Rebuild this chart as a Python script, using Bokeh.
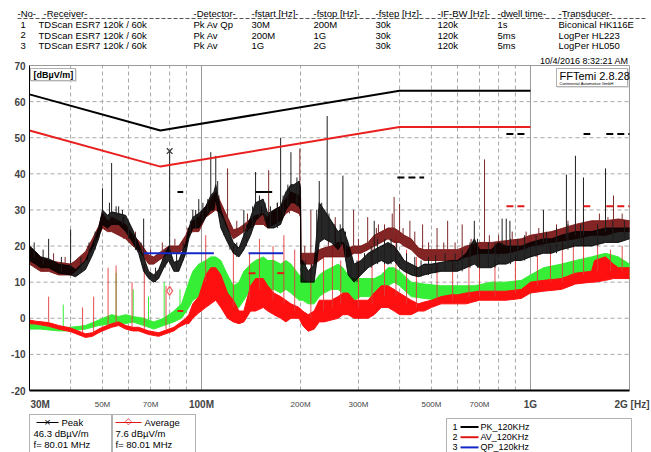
import math
from bokeh.plotting import figure
from bokeh.models import Range1d, Label, BoxAnnotation, Arrow, ColumnDataSource
from bokeh.embed import file_html
from bokeh.resources import INLINE

FONT = "Liberation Sans"

# ---------------- header table ----------------
header_cols = ["-No-", "-Receiver-", "-Detector-", "-fstart [Hz]-", "-fstop [Hz]-",
               "-fstep [Hz]-", "-IF-BW [Hz]-", "-dwell time-", "-Transducer-"]
header_rows = [
    ["1", "TDScan ESR7 120k / 60k", "Pk Av Qp", "30M", "200M", "30k", "120k", "1s", "Biconical HK116E"],
    ["2", "TDScan ESR7 120k / 60k", "Pk Av", "200M", "1G", "30k", "120k", "5ms", "LogPer HL223"],
    ["3", "TDScan ESR7 120k / 60k", "Pk Av", "1G", "2G", "30k", "120k", "5ms", "LogPer HL050"],
]
timestamp = "10/4/2016 8:32:21 AM"
unit_label = "[dBµV/m]"
software = "FFTemi 2.8.28"
software_sub = "Continental Automotive GmbH"

# ---------------- axes ----------------
y_ticks = [-20, -10, 0, 10, 20, 30, 40, 50, 60, 70]
x_labels_minor = [(50, "50M"), (70, "70M"), (200, "200M"), (300, "300M"), (500, "500M"), (700, "700M")]
x_labels_major = [(30, "30M"), (100, "100M"), (1000, "1G"), (2000, "2G [Hz]")]
grid_dashed_mhz = [40, 50, 60, 70, 80, 90, 200, 300, 400, 500, 600, 700, 800, 900]
grid_solid_mhz = [100, 1000]
F_MIN, F_MAX = 30, 2000
V_MIN, V_MAX = -20, 70

# ---------------- limits (MHz, dBuV/m) ----------------
limit_f = [30, 75, 400, 1000]
pk_limit = [62, 52, 63, 63]
av_limit = [52, 42, 53, 53]

# ---------------- scan traces: (MHz, low, high) ----------------
pk_trace = [
    (30, 16, 20), (31.3, 15, 18.5), (32.4, 14, 17), (34.3, 14, 16.5), (36.8, 12.5, 15),
    (40, 12, 14.5), (41.4, 11.5, 13.5), (44.4, 13.5, 16), (46.6, 17.5, 20.5), (48.7, 22, 25),
    (50, 26, 30), (51.8, 25, 28.5), (53.3, 26, 29.5), (56, 26, 29), (58.8, 24, 28.5),
    (61.8, 21, 24.5), (64.4, 18, 20.5), (66.7, 13, 17), (69.1, 11, 13), (71.6, 10, 12),
    (74.1, 11, 13.5), (76.8, 14, 17), (79.5, 16, 20), (82.4, 13, 15.5), (85.3, 13, 16),
    (89.6, 18, 21), (91.5, 22, 25), (94.1, 25, 28), (98.1, 25, 29), (103, 28, 31),
    (106.7, 30, 34), (109, 30, 35), (110.5, 33, 37), (114.5, 25, 30), (120, 21, 25),
    (125, 18, 21), (130, 17, 19.5), (134.5, 19, 23), (141, 23, 28), (146, 27, 32),
    (154, 29, 33), (159, 25, 29), (166, 25, 30), (174, 26, 31), (180.5, 30, 35),
    (187, 32, 37), (191, 32, 37), (198, 31, 38), (200, 30, 36),
    (200.5, 10, 16), (203, 10, 16), (211, 10, 13), (220, 10, 15), (228, 21, 32),
    (236, 22, 30), (248, 21, 27), (260, 19, 24), (269, 21, 25), (279, 12, 21),
    (291, 10, 15), (305, 12, 16), (321, 14, 18), (335, 15, 19), (352, 16, 20),
    (369, 15, 21), (385, 16, 20), (400, 14, 18), (413, 13, 16), (434, 12, 15),
    (456, 11.5, 14), (475, 12, 15), (500, 12.5, 15), (535, 13, 15.5), (574, 13, 16),
    (600, 13, 16), (638, 14, 18), (675, 15, 22), (700, 14, 19), (729, 14, 19),
    (760, 14, 19), (798, 15, 21), (844, 15, 20), (893, 16, 20), (938, 16, 20),
    (1000, 17, 21), (1095, 18, 22), (1158, 18, 22), (1242, 19, 23), (1370, 20, 24),
    (1533, 20, 24), (1691, 21, 25), (1851, 21, 25), (2000, 22, 25),
]
pk2_trace = [
    (30, 15, 20), (32.4, 13, 17), (34.3, 13, 16), (36.8, 12, 15.5), (40, 12, 15),
    (41.4, 13, 16), (44.4, 16, 18.5), (46.6, 19.5, 22), (48.7, 23, 25.5), (50, 25, 29),
    (51.8, 24, 27), (53.3, 24, 28), (56, 23, 27), (58.8, 22, 26), (61.8, 20, 23),
    (64.4, 19, 21.5), (66.7, 17, 19.5), (69.1, 15, 17.5), (71.6, 15, 17), (74.1, 16, 18),
    (76.8, 17, 19), (79.5, 18, 20), (82.4, 18, 20), (85.3, 18, 20), (89.6, 20, 23),
    (91.5, 23, 25), (94.1, 24, 27), (98.1, 24, 28), (103, 28, 31), (106.7, 29, 33),
    (110.5, 30, 35), (114.5, 29, 32), (120, 25, 28), (125, 22, 24.5), (130, 23, 25),
    (134.5, 24, 26), (141, 25, 27.5), (146, 26, 28.5), (154, 26, 29), (159, 25, 28),
    (166, 26, 30), (174, 27, 31), (180.5, 29, 33), (187, 30, 35), (198, 29, 34),
    (200, 28, 33),
    (200.5, 15, 18), (211, 15, 18), (220, 15, 18), (228, 16, 19), (236, 17, 19.5),
    (248, 17, 20), (260, 17, 21), (269, 17, 21), (279, 17, 19.5), (291, 18, 20),
    (305, 18, 20), (321, 19, 21), (335, 20, 23), (352, 21, 24), (369, 22, 25),
    (385, 21, 25), (400, 21, 24), (413, 20, 23), (434, 19, 22), (456, 17, 19.5),
    (475, 16, 19), (500, 16, 19), (535, 16, 19), (574, 16, 19), (600, 16, 19),
    (638, 17, 20), (700, 18, 21), (760, 18, 21), (844, 18, 21.5), (938, 19, 22),
    (1000, 20, 23), (1158, 21, 24), (1370, 22, 26), (1533, 23, 27), (1691, 23, 27),
    (1851, 24, 27.5), (2000, 24, 27),
]
av2_trace = [
    (30, -3, -1), (32.4, -3, -2), (36.8, -3.5, -2.5), (40, -3.5, -2.5), (44.4, -3, -2),
    (48.7, -2, -0.5), (53.3, -1.5, 1), (56, -1.5, 0.5), (58.8, -1.5, 1), (61.8, -1, 0.5),
    (66.7, -2, 0), (71.6, -3, -1), (76.8, -2, 0), (82.4, -1, 2), (87, 0, 4),
    (91.5, 3, 10), (94.1, 5, 13), (98.1, 6, 15), (103, 8, 16), (106.7, 9, 17),
    (110.5, 9, 17), (114.5, 8, 16), (120, 4, 12), (125, 2, 9), (130, 3, 10),
    (134.5, 5, 13), (141, 8, 15), (146, 9, 16), (154, 9, 17), (159, 8, 16),
    (166, 8, 16), (174, 7, 15), (180.5, 8, 16), (187, 7, 15), (198, 5, 12),
    (203, 5, 11), (211, 4, 10), (220, 4, 10), (228, 6, 12), (236, 7, 13),
    (248, 8, 14), (260, 8, 15), (269, 7, 14), (279, 5, 12), (291, 5, 11),
    (305, 6, 11), (321, 6, 11), (335, 6, 11), (352, 7, 12), (369, 9, 14),
    (385, 10, 14), (400, 9, 13), (434, 6, 10), (475, 5.5, 9.5), (535, 5, 9),
    (600, 5, 9), (675, 5, 9), (760, 6, 10), (844, 6, 10), (938, 6.5, 10.5),
    (1000, 7, 12), (1095, 8, 14), (1242, 9, 15), (1370, 10, 16), (1533, 11, 17),
    (1691, 12, 18), (1851, 12, 17), (2000, 11, 15),
]
av_trace = [
    (30, -1.5, -0.5), (31.3, -1.6, -0.8), (34.3, -2.2, -1.2), (36.8, -3, -2), (40, -3.7, -2.7),
    (44.4, -5.3, -4.3), (46.6, -5, -4), (48.7, -4, -3), (50, -3.5, -2.5), (53.3, -2.5, -1.5),
    (56, -2, -1), (58.8, -3, -2), (61.8, -3.5, -2.5), (64.4, -3.5, -2.5), (69.1, -4.5, -3.5),
    (74.1, -5, -4), (79.5, -4, -3), (82.4, -3.5, -2.5), (85.3, -2.5, -1.5), (89.6, -1.5, 0),
    (91.5, -1.5, 1), (94.1, 0, 4), (98.1, 1.5, 6), (103, 3, 12), (106.7, 4, 14),
    (110.5, 5, 14), (114.5, 3, 12), (120, 0, 7), (125, -1, 5), (130, -1.5, 2),
    (134.5, -1, 2), (141, 2, 9), (146, 2, 11), (154, 3, 11), (159, 2, 9),
    (166, 1, 7), (174, 0, 6), (180.5, -1, 5), (187, 0, 4), (198, 0, 3),
    (203, -2, 2), (211, -3.6, 1), (220, -3, 2), (228, -1, 5), (236, -1, 5),
    (248, -0.5, 5), (260, 0, 6), (269, 1, 7), (279, 1, 7), (291, 0, 5),
    (305, 0, 5), (321, 0, 5), (335, 1, 7), (352, 3, 9), (369, 3, 9),
    (385, 2, 8), (400, 1, 7), (434, 1, 5), (456, 2, 4), (475, 2, 4.5),
    (500, 3, 5), (535, 4, 6), (574, 4, 6.5), (600, 4, 6.5), (638, 4, 7),
    (700, 5, 7.5), (760, 5, 7.5), (844, 5, 7.5), (938, 5.5, 8), (1000, 7, 10),
    (1095, 7.5, 10.5), (1242, 8, 11), (1370, 9.5, 12.5), (1533, 10, 13), (1566, 10, 16),
    (1691, 10.5, 17), (1788, 11, 15), (1851, 11, 14), (2000, 11, 14),
]

# ---------------- narrow-band spikes / noise ticks: (MHz, bottom, top) ----------------
pk_spikes = [
    (34.3, 16, 22), (40, 14, 24.6), (50, 29, 36), (53.3, 29, 43), (56, 28, 31),
    (66.7, 17, 27.6), (80.01, 18, 46.3), (94.1, 27, 30), (98.1, 28, 33), (106.7, 33, 46),
    (110.5, 36, 45), (134.5, 22, 30), (146, 31, 40.5), (174, 30, 50), (187, 36, 46),
    (228, 31, 38), (241, 28, 56), (269, 24, 39.5), (335, 18, 27), (675, 20, 27),
    (820, 20, 27.6), (844, 20, 27.6), (866, 20, 27), (1095, 21, 30), (1286, 22, 39.8),
    (1370, 23, 45), (1449, 23, 39), (1691, 24, 41.5),
    (31, 17, 21), (33, 15, 19), (37.5, 13, 17), (43, 13, 17), (45.5, 16, 21),
    (47.5, 19, 24), (52.5, 27, 32), (55, 27, 31), (57.5, 26, 30), (60, 22, 27),
    (63, 19, 23), (65.5, 16, 21), (72.5, 10, 14), (77.5, 14, 19), (84, 13, 18),
    (88, 16, 21), (92.5, 23, 27), (96, 25, 30), (101, 27, 32), (104.5, 29, 33),
    (112, 33, 38), (117, 23, 28), (122, 19, 23), (128, 17, 21), (137, 20, 26),
    (143, 25, 31), (150, 28, 34), (156, 27, 32), (162, 25, 31), (170, 25, 32),
    (177, 28, 34), (183, 31, 37), (195, 31, 39), (207, 10, 16), (216, 10, 15),
    (224, 18, 30), (232, 22, 32), (244, 21, 29), (254, 20, 26), (264, 20, 26),
    (274, 16, 24), (285, 11, 18), (297, 10, 16), (313, 13, 18), (328, 14, 20),
    (343, 15, 22), (360, 15, 22), (377, 15, 22), (392, 15, 21),
    (420, 13, 18), (445, 12, 17), (465, 11.5, 16), (490, 12, 17), (515, 12.5, 17.5),
    (550, 13, 18), (590, 13, 18), (620, 13, 19), (655, 14, 21), (690, 14, 22),
    (745, 14, 21), (780, 14, 21), (870, 15, 22), (915, 16, 22), (960, 16, 23),
    (1040, 17, 23), (1120, 18, 24), (1200, 18, 25), (1300, 19, 26), (1420, 20, 26),
    (1600, 20, 26), (1780, 21, 27), (1930, 22, 27),
]
pk2_spikes = [
    (120, 27, 41.5), (160, 28, 41), (199, 33, 47), (215, 18, 30), (255, 20, 28),
    (290, 19, 30), (320, 20, 28), (345, 23, 26), (380, 24, 29), (385, 24, 33.6),
    (400, 23, 31.7), (430, 21, 27), (470, 19, 26), (520, 19, 25), (560, 19, 27),
    (620, 19, 26), (725, 20, 44), (1788, 27, 34),
    (35.5, 13, 18), (38.5, 12, 17), (45, 16, 20), (49.5, 24, 28), (58, 22, 28),
    (63, 19, 24), (70, 15, 19), (76, 16, 21), (83, 18, 22), (90.5, 21, 25),
    (97, 24, 29), (113, 29, 34), (128, 23, 27), (138, 24, 29), (152, 26, 31),
    (170, 26, 32), (185, 29, 36), (206, 15, 20), (243, 17, 22), (265, 17, 23),
    (300, 18, 22), (340, 20, 25), (360, 21, 26), (410, 20, 25), (445, 18, 24),
    (490, 16, 21), (545, 16, 21), (590, 16, 21), (660, 17, 22), (750, 18, 23),
    (800, 18, 23), (880, 18, 24), (970, 19, 24), (1060, 20, 25), (1200, 21, 26),
    (1300, 22, 27), (1450, 22, 28), (1620, 23, 29), (1720, 23, 28), (1900, 24, 29),
]
av_spikes = [
    (34.3, -1, 6), (43.5, -4, 3), (47, -4, 6), (52, -2, 14), (55, -1.5, 14.6),
    (61.5, -2.5, 10), (67, -3, 15), (78, -3, 9), (103, 10, 23), (125, 3, 20),
    (140, 5, 18), (150, 8, 22), (165, 5, 20), (178, 4, 23), (192, 2, 19),
    (215, 0, 15), (235, 2, 17), (250, 3, 20), (265, 4, 16), (300, 3, 18),
    (330, 4, 20), (360, 6, 22), (390, 6, 23), (420, 4, 19), (450, 3, 17),
    (520, 5, 15), (580, 5, 16), (650, 6, 18), (700, 6, 20), (780, 6, 16),
    (900, 7, 17), (1050, 9, 18), (1150, 10, 20), (1250, 10, 22), (1350, 12, 21),
    (1450, 12, 24), (1600, 13, 22), (1750, 13, 19), (1900, 13, 20),
]
av2_spikes = [(38, -2.5, 3.8), (55, 0, 12.6), (62, 0, 8), (69, -1, 6), (77, -1, 10),
              (86, 1, 8), (203, 8, 17)]

# ---------------- final measurement markers: (MHz start, MHz end, level) ----------------
qp_final = [(66.7, 109, 18), (139, 177, 18)]
pk_final_solid = [(84.5, 88, 35), (146, 164, 35)]
pk_final_dashed = [(394, 475, 39), (845, 960, 51), (1450, 1520, 51), (1700, 2000, 51)]
av_final_solid = [(84.5, 88, 2), (139, 146, 12.5), (170, 178, 12.5)]
av_final_dashed = [(845, 960, 31), (1450, 1520, 31), (1700, 2000, 31)]

peak_mark = (80.01, 46.3)
avg_mark = (80.01, 7.6)
peak_text = ["Peak", "46.3 dBµV/m", "f= 80.01 MHz"]
avg_text = ["Average", "7.6 dBµV/m", "f= 80.01 MHz"]
legend_entries = [("1", "PK_120KHz", "#000000"), ("2", "AV_120KHz", "#E01818"), ("3", "QP_120kHz", "#1428C8")]

MHZ = 1e6

# ---------------- layout (pixels) ----------------
W, H = 651, 452
PLOT_L, PLOT_R, PLOT_T, PLOT_B = 29, 629, 65, 390
dec_per_px = (math.log10(F_MAX) - math.log10(F_MIN)) / (PLOT_R - PLOT_L)
val_per_px = (V_MAX - V_MIN) / (PLOT_B - PLOT_T)
x_lo = 10 ** (math.log10(F_MIN * MHZ) - PLOT_L * dec_per_px)
x_hi = 10 ** (math.log10(F_MAX * MHZ) + (W - PLOT_R) * dec_per_px)
y_lo = V_MIN - (H - PLOT_B) * val_per_px
y_hi = V_MAX + PLOT_T * val_per_px

p = figure(width=W, height=H, x_axis_type="log",
           x_range=Range1d(x_lo, x_hi), y_range=Range1d(y_lo, y_hi),
           output_backend="svg", toolbar_location=None,
           x_axis_location=None, y_axis_location=None, min_border=0)
p.outline_line_color = None
p.grid.visible = False
p.background_fill_color = "white"
p.border_fill_color = "white"

fmin, fmax = F_MIN * MHZ, F_MAX * MHZ
inner_y = [t for t in y_ticks if V_MIN < t < V_MAX]
# grid
p.segment(x0=[fmin] * len(inner_y), x1=[fmax] * len(inner_y), y0=inner_y, y1=inner_y,
          line_color="#A8A8A8", line_dash="4 3", line_width=1)
p.segment(x0=[f * MHZ for f in grid_dashed_mhz], x1=[f * MHZ for f in grid_dashed_mhz],
          y0=[V_MIN] * len(grid_dashed_mhz), y1=[V_MAX] * len(grid_dashed_mhz),
          line_color="#A8A8A8", line_dash="4 3", line_width=1)
p.segment(x0=[f * MHZ for f in grid_solid_mhz], x1=[f * MHZ for f in grid_solid_mhz],
          y0=[V_MIN] * 2, y1=[V_MAX] * 2, line_color="#9A9A9A", line_width=1)
# frame
p.line([fmin, fmax, fmax], [V_MAX, V_MAX, V_MIN], line_color="#9A9A9A", line_width=1)


def band_source(trace):
    f, lo, hi = zip(*trace)
    return ColumnDataSource(dict(x=[v * MHZ for v in f], lo=list(lo), hi=list(hi)))


def draw_band(trace, color, alpha=1.0):
    src = band_source(trace)
    p.varea(x="x", y1="lo", y2="hi", source=src, fill_color=color, fill_alpha=alpha)
    p.line(x="x", y="hi", source=src, line_color=color, line_width=1, line_alpha=alpha)
    p.line(x="x", y="lo", source=src, line_color=color, line_width=1, line_alpha=alpha)


def draw_spikes(spikes, color, alpha=1.0, width=1):
    p.segment(x0="x", y0="lo", x1="x", y1="hi", source=band_source(spikes),
              line_color=color, line_alpha=alpha, line_width=width)


draw_band(av2_trace, "#36EE36")
draw_spikes(av2_spikes, "#36EE36")
draw_band(av_trace, "#FF1010")
draw_spikes(av_spikes, "#E23A3A", 0.9)
draw_band(pk2_trace, "#7A1212", 0.92)
draw_spikes(pk2_spikes, "#7E2A2A")
draw_band(pk_trace, "#000000", 0.85)
draw_spikes(pk_spikes, "#1E1E1E")

# limits
p.line([f * MHZ for f in limit_f], pk_limit, line_color="black", line_width=2)
p.line([f * MHZ for f in limit_f], av_limit, line_color="#E82020", line_width=2)


def draw_final(segs, color, dash="solid", width=2):
    a, b, v = zip(*segs)
    p.segment(x0=[x * MHZ for x in a], y0=list(v), x1=[x * MHZ for x in b], y1=list(v),
              line_color=color, line_width=width, line_dash=dash)


draw_final(qp_final, "#1428C8")
draw_final(pk_final_solid, "black")
draw_final(pk_final_dashed, "black", "7 4")
draw_final(av_final_solid, "#E01818")
draw_final(av_final_dashed, "#E01818", "7 4")

p.scatter([peak_mark[0] * MHZ], [peak_mark[1]], marker="x", size=8, line_color="#333333", line_width=1.2)
p.scatter([avg_mark[0] * MHZ], [avg_mark[1]], marker="diamond", size=9, fill_color=None,
          line_color="#F06060", line_width=1.2)

# axis lines (left thin black, bottom thick black)
p.line([fmin, fmin], [V_MIN, V_MAX], line_color="black", line_width=1)
p.line([fmin, fmax], [V_MIN, V_MIN], line_color="black", line_width=2)


# ---------------- text & boxes (pixel layout) ----------------
def sx(X):
    return X


def sy(Y):
    return H - Y


def text(X, Y, s, size="9.5px", align="left", bold=False, color="black", font=FONT):
    p.add_layout(Label(x=sx(X), y=sy(Y), x_units="screen", y_units="screen", text=s,
                       text_font=font, text_font_size=size, text_align=align,
                       text_baseline="middle", text_color=color,
                       text_font_style="bold" if bold else "normal"))


def hline(X0, X1, Y, color="black", width=1, dash="solid"):
    p.add_layout(Arrow(start=None, end=None, x_start=sx(X0), y_start=sy(Y), x_end=sx(X1), y_end=sy(Y),
                       start_units="screen", end_units="screen", line_color=color,
                       line_width=width, line_dash=dash))


def box(X0, Y0, X1, Y1, color="black", width=1, fill="white"):
    p.add_layout(BoxAnnotation(left=sx(X0), right=sx(X1), top=sy(Y0), bottom=sy(Y1),
                               left_units="screen", right_units="screen",
                               top_units="screen", bottom_units="screen",
                               fill_color=fill, fill_alpha=1.0 if fill else 0.0,
                               line_color=color, line_width=width))


# boxes first (drawn under their texts)
box(31, 69, 76, 81, color="#9A9A9A")          # shadow
box(30, 68, 75, 80)
box(557, 69, 628, 87, color="#9A9A9A")        # shadow
box(556, 68, 627, 86)
box(29, 414, 111, 470)
box(112, 414, 195, 470)
box(446, 418, 631, 470)

# y tick labels
for t in y_ticks:
    p.add_layout(Label(x=sx(25), y=t, x_units="screen", y_units="data", text=str(t),
                       text_font=FONT, text_font_size="10px", text_font_style="bold",
                       text_align="right", text_baseline="middle"))

# x tick labels
for f, s in x_labels_minor:
    p.add_layout(Label(x=f * MHZ, y=sy(404), x_units="data", y_units="screen", text=s,
                       text_font=FONT, text_font_size="8px", text_align="center",
                       text_baseline="middle"))
for f, s in x_labels_major:
    if f == F_MIN:
        al, xo = "left", 1
    elif f == F_MAX:
        al, xo = "right", 20
    else:
        al, xo = "center", 0
    p.add_layout(Label(x=f * MHZ, y=sy(404), x_units="data", y_units="screen", text=s,
                       x_offset=xo, text_font=FONT, text_font_size="10px", text_align=al,
                       text_baseline="middle", text_font_style="bold"))

# header
col_x = [17, 43, 193, 251, 313, 375, 437, 497, 558]
row_first_x = 20
row_second_x = 38
for cx, s in zip(col_x, header_cols):
    text(cx, 12.5, s)
hline(17, 645, 18, color="#555555", dash="4 2")
for r, row in enumerate(header_rows):
    yy = 24 + r * 10.5
    for c, s in enumerate(row):
        xx = row_first_x if c == 0 else (row_second_x if c == 1 else col_x[c])
        text(xx, yy, s)
text(628, 60, timestamp, size="9px", align="right")

# unit box & software box texts
text(33, 74, unit_label, size="9px", bold=True)
text(559, 75.5, software, size="11px")
text(559, 83, software_sub, size="4px")

# peak / average marker boxes
hline(36, 58, 422)
text(47, 421.5, "×", size="11px", align="center")
text(61, 422, peak_text[0], size="9.5px")
text(33, 433, peak_text[1], size="9.5px")
text(33, 444, peak_text[2], size="9.5px")
hline(115, 141, 422, color="#E01818")
text(128, 420.5, "◇", size="9px", align="center", color="#E01818", font="DejaVu Sans")
text(144, 422, avg_text[0], size="9.5px")
text(115, 433, avg_text[1], size="9.5px")
text(115, 444, avg_text[2], size="9.5px")

# trace legend
for i, (num, name, col) in enumerate(legend_entries):
    yy = 426.5 + i * 10.2
    text(452, yy, num, size="9px")
    hline(460, 478, yy, color=col, width=2)
    text(480, yy, name, size="9px")

open("out.html", "w").write(file_html(p, INLINE))
